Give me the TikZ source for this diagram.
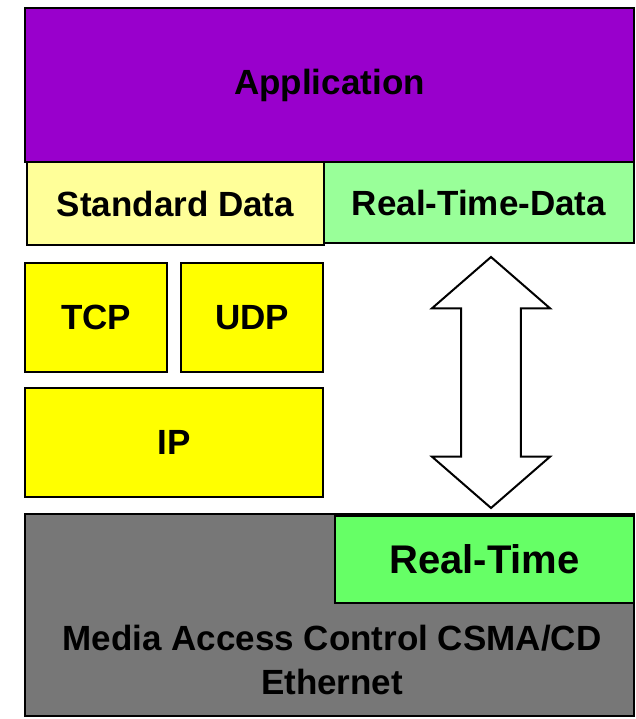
\documentclass[tikz,border=0pt]{standalone}
\usepackage{fontspec}
\setmainfont{Liberation Sans}
\usetikzlibrary{shapes.arrows}

\definecolor{appcol}{HTML}{9900CC}
\definecolor{stdcol}{HTML}{FFFF99}
\definecolor{rtdcol}{HTML}{99FF99}
\definecolor{ipcol}{HTML}{FFFF00}
\definecolor{maccol}{HTML}{777777}
\definecolor{rtcol}{HTML}{66FF66}

\tikzset{
  layer/.style={draw=black, line width=1.5pt, inner sep=0pt, outer sep=0pt,
    anchor=north west, font=\fontsize{35}{44}\selectfont\bfseries},
  label/.style={inner sep=0pt, align=center,
    font=\fontsize{35}{44}\selectfont\bfseries},
  bigarrow/.style={double arrow, draw=black, fill=white, line width=2pt,
    rotate=90, minimum height=251pt, inner xsep=0pt, inner ysep=28.8pt,
    double arrow head extend=29.2pt, double arrow tip angle=98}
}

\begin{document}
\begin{tikzpicture}[x=1pt, y=-1pt]
  \useasboundingbox (0,0) rectangle (636,719);

  % application layer and its two data paths
  \node[layer, fill=appcol, minimum width=609pt, minimum height=154pt] (app) at (25,8) {Application};
  \node[layer, fill=stdcol, minimum width=297pt, minimum height=83pt] (std) at (27,162) {Standard Data};
  \node[layer, fill=rtdcol, minimum width=310pt, minimum height=81pt] (rtd) at (324,162) {Real-Time-Data};

  % transport and network
  \node[layer, fill=ipcol, minimum width=142pt, minimum height=109pt] (tcp) at (25,263) {TCP};
  \node[layer, fill=ipcol, minimum width=142pt, minimum height=109pt] (udp) at (181,263) {UDP};
  \node[layer, fill=ipcol, minimum width=298pt, minimum height=109pt] (ip) at (25,388) {IP};

  % media access
  \node[layer, fill=maccol, minimum width=609pt, minimum height=202pt] (mac) at (25,514) {};
  \node[layer, fill=rtcol, minimum width=299pt, minimum height=87pt,
        font=\fontsize{40}{48}\selectfont\bfseries] (rt) at (335,516) {Real-Time};
  \node[label] (macl) at (332,660) {Media Access Control CSMA/CD\\Ethernet};

  % real-time path between application data and MAC
  \node[bigarrow] (rtpath) at (491,382.5) {};
\end{tikzpicture}
\end{document}
